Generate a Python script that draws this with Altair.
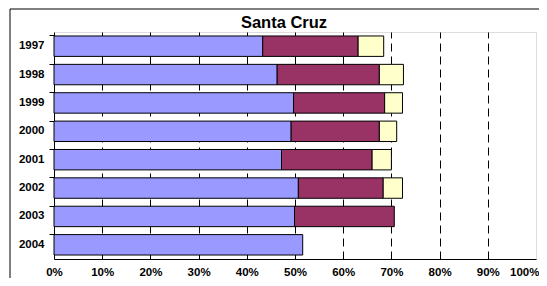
import altair as alt
import pandas as pd

years = ["1997", "1998", "1999", "2000", "2001", "2002", "2003", "2004"]
series_names = ["A", "B", "C"]
blue = [43.3, 46.3, 49.7, 49.2, 47.2, 50.7, 49.9, 51.6]
purple = [19.8, 21.2, 18.9, 18.3, 18.8, 17.6, 20.7, 0.0]
yellow = [5.3, 5.0, 3.7, 3.6, 4.0, 4.0, 0.0, 0.0]
x_ticks = [0, 0.1, 0.2, 0.3, 0.4, 0.5, 0.6, 0.7, 0.8, 0.9, 1.0]
colors = ["#9999FF", "#993366", "#FFFFCC"]

rows = []
for i, y in enumerate(years):
    for k, (name, vals) in enumerate(zip(series_names, [blue, purple, yellow])):
        if vals[i] > 0:
            rows.append({"year": y, "series": name, "order": k, "value": vals[i] / 100.0})
df = pd.DataFrame(rows)

FONT = "Liberation Sans"

bars = alt.Chart(df).mark_bar(stroke="black", strokeWidth=1).encode(
    y=alt.Y("year:N", sort=years,
            scale=alt.Scale(paddingInner=0.28, paddingOuter=0.14),
            axis=alt.Axis(title=None, labelFont=FONT, labelFontSize=11.5, labelFontWeight="bold",
                          labelColor="black", domainColor="black", tickColor="black",
                          tickSize=5, labelPadding=5, bandPosition=0, grid=False)),
    x=alt.X("value:Q", stack="zero",
            scale=alt.Scale(domain=[0, 1], nice=False),
            axis=alt.Axis(title=None, format="%", values=x_ticks, labelFont=FONT,
                          labelFontSize=11.5, labelFontWeight="bold", labelColor="black",
                          domainColor="black", ticks=False, labelPadding=7, labelFlush=False,
                          labelAlign={"condition": {"test": "datum.value === 1", "value": "right"}, "value": "center"},
                          labelOffset={"condition": {"test": "datum.value === 1", "value": 3}, "value": 0},
                          grid=True, gridColor="black", gridDash=[8, 5],
                          gridOpacity={"condition": {"test": "datum.value === 0 || datum.value === 1", "value": 0}, "value": 1})),
    color=alt.Color("series:N", scale=alt.Scale(domain=series_names, range=colors), legend=None),
    order=alt.Order("order:Q"),
)

border = alt.Chart(pd.DataFrame({"a": [0]})).mark_rect(fill=None, stroke="black", strokeWidth=1).encode(
    x=alt.value(-44), x2=alt.value(600), y=alt.value(-23), y2=alt.value(400)
)

chart = alt.layer(bars, border).properties(
    width=482, height=227,
    title=alt.TitleParams("Santa Cruz", font=FONT, fontSize=16.5, fontWeight="bold",
                          color="black", anchor="middle", dx=-11, offset=-23),
    padding={"left": 46, "top": 24, "right": 3, "bottom": 19},
    autosize=alt.AutoSizeParams(type="none"),
).configure_view(stroke="#999999", strokeWidth=1).configure(background="white")

chart.save("out.html", embed_options={"renderer": "svg", "actions": False})
